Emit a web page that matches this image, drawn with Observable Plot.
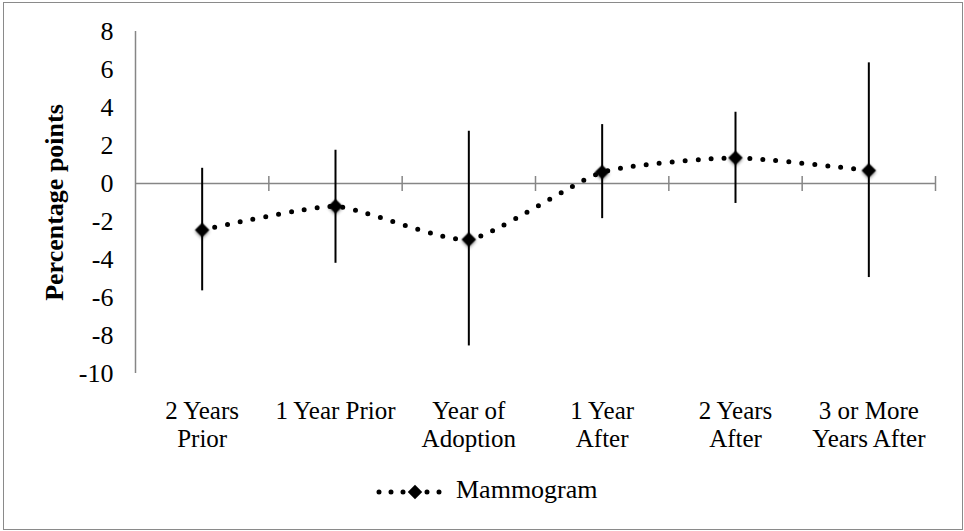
<!DOCTYPE html>
<html><head><meta charset="utf-8">
<script src="https://cdn.jsdelivr.net/npm/d3@7"></script>
<script src="https://cdn.jsdelivr.net/npm/@observablehq/plot@0.6"></script>
<style>
html,body{margin:0;padding:0;background:#fff;}
#wrap{position:relative;width:964px;height:531px;overflow:hidden;font-family:"Liberation Serif",serif;background:#fff;}
#chart{position:absolute;left:0;top:0;}
#frame{position:absolute;left:3px;top:2px;width:960px;height:528px;border:1.5px solid #8a8a8a;box-sizing:border-box;pointer-events:none;}
#swatch{position:absolute;left:374px;top:482px;}
#legtext{position:absolute;left:456px;top:475px;font-size:26px;line-height:normal;color:#000;white-space:nowrap;}
</style></head>
<body><div id="wrap"><div id="chart"></div><svg id="swatch" width="78" height="20"></svg><div id="legtext"></div><div id="frame"></div></div>
<script>
const categories = ["2 Years\nPrior", "1 Year Prior", "Year of\nAdoption", "1 Year\nAfter", "2 Years\nAfter", "3 or More\nYears After"];
const estimates = [-2.45, -1.2, -2.95, 0.6, 1.35, 0.68];
const lower = [-5.65, -4.2, -8.55, -1.85, -1.05, -4.95];
const upper = [0.8, 1.75, 2.75, 3.1, 3.75, 6.35];
const yTicks = [-10, -8, -6, -4, -2, 0, 2, 4, 6, 8];
const seriesName = "Mammogram";
const yTitle = "Percentage points";

const rows = categories.map((c, i) => ({i: i + 0.5, cat: c, est: estimates[i], lo: lower[i], hi: upper[i]}));
const boundaries = d3.range(1, categories.length + 1);
const axisGray = "#868686";

const chart = Plot.plot({
  width: 964, height: 470,
  marginLeft: 135, marginRight: 29, marginTop: 31, marginBottom: 97,
  style: {fontFamily: "Liberation Serif", fontSize: "26px", color: "#000", background: "transparent", overflow: "visible"},
  x: {domain: [0, categories.length]},
  y: {domain: [-10, 8]},
  marks: [
    Plot.axisY({ticks: yTicks, tickSize: 0, tickPadding: 22, tickFormat: d => String(d), label: null, fontSize: 26}),
    Plot.axisX({ticks: rows.map(d => d.i), tickSize: 0, tickPadding: 26, tickFormat: t => categories[Math.floor(t)], lineHeight: 1.11, label: null, fontSize: 25}),
    Plot.ruleX([0], {y1: -10, y2: 8, stroke: axisGray, strokeWidth: 1.5}),
    Plot.ruleY([0], {stroke: axisGray, strokeWidth: 1.5}),
    Plot.ruleX(boundaries, {y1: 0, y2: 0, insetTop: -7, insetBottom: -8, stroke: axisGray, strokeWidth: 1.5}),
    Plot.ruleX(rows, {x: "i", y1: "lo", y2: "hi", stroke: "#000", strokeWidth: 2}),
    Plot.line(rows, {x: "i", y: "est", curve: "cardinal", tension: 0.45, stroke: "#000", strokeWidth: 5, strokeDasharray: "0 13", strokeLinecap: "round"}),
    Plot.dot(rows, {x: "i", y: "est", symbol: "diamond2", r: 6.5, fill: "#000", stroke: "none"}),
    Plot.text([yTitle], {frameAnchor: "left", textAnchor: "middle", rotate: -90, dx: -81, fontWeight: "bold", fontSize: 26})
  ]
});
document.getElementById("chart").appendChild(chart);

// soft shadow under markers
const svg = d3.select(chart);
svg.insert("defs", ":first-child").append("filter").attr("id", "shadow")
  .attr("x", "-50%").attr("y", "-50%").attr("width", "200%").attr("height", "200%")
  .append("feDropShadow").attr("dx", 0).attr("dy", 1.5).attr("stdDeviation", 1.5)
  .attr("flood-color", "#000").attr("flood-opacity", 0.45);
svg.selectAll("g[aria-label='dot']").attr("filter", "url(#shadow)");

// legend
const sw = d3.select("#swatch");
sw.append("line").attr("x1", 5).attr("x2", 73).attr("y1", 10).attr("y2", 10)
  .attr("stroke", "#000").attr("stroke-width", 5).attr("stroke-dasharray", "0 12").attr("stroke-linecap", "round");
sw.append("path").attr("d", d3.symbol(d3.symbolDiamond2, 6.5 * 6.5 * Math.PI)()).attr("transform", "translate(41,10)").attr("fill", "#000");
document.getElementById("legtext").textContent = seriesName;
</script>
</body></html>
